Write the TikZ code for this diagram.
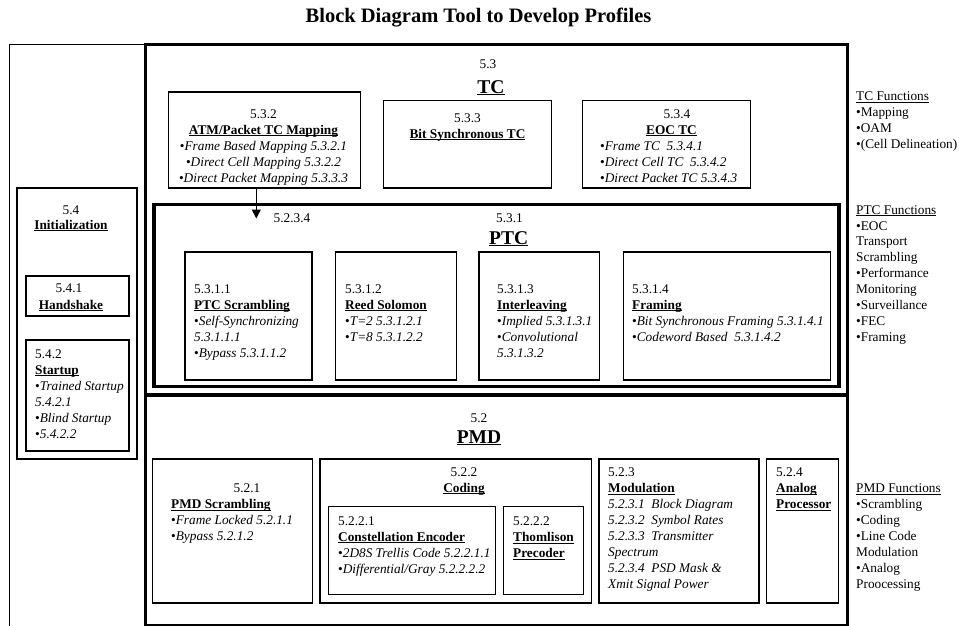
\documentclass[tikz,border=0pt]{standalone}
\usepackage{fontspec}
\setmainfont{Liberation Serif}
\usetikzlibrary{arrows.meta,fit}
% underline at a fixed depth below the baseline
\newcommand\ulbox[1]{\setbox0=\hbox{#1}\rlap{\rule[-1.7pt]{\wd0}{0.8pt}}\box0}
\newcommand\ulbig[1]{\setbox0=\hbox{#1}\rlap{\rule[-2.3pt]{\wd0}{1.3pt}}\box0}
% fixed top of the first line of a text block
\newcommand\tstrut{\rule{0pt}{11.2pt}}
\newcommand\blt{\textbullet}
\begin{document}
\begin{tikzpicture}[x=1pt,y=-1pt,
  thinbox/.style={draw, line width=1.1pt, inner sep=0pt},
  thickbox/.style={draw, line width=3.3pt, inner sep=0pt},
  txt/.style={inner sep=0pt, font=\fontsize{13.3}{16}\selectfont},
  sidetxt/.style={inner sep=0pt, font=\fontsize{13.3}{15.85}\selectfont, align=left, anchor=north west},
  big/.style={inner sep=0pt, font=\fontsize{19.5}{23}\selectfont\bfseries, anchor=base},
  arrowline/.style={line width=1pt, -{Triangle[width=9pt,length=9pt]}}
]
\useasboundingbox (0,0) rectangle (959,626);
\clip (0,0) rectangle (959,626);

% heading
\node[inner sep=0pt, font=\fontsize{20.5}{24}\selectfont\bfseries, anchor=base] (title) at (478.5,23) {Block Diagram Tool to Develop Profiles};

% frames
\node[thinbox, fit={(9.5,44.3) (145.7,700)}] (outer) {};
\node[thinbox, fit={(17,188) (137,459)}] (init) {};
\node[thinbox, fit={(26,276) (129,316)}] (b541) {};
\node[thinbox, fit={(26,340) (129,451)}] (b542) {};
\node[thickbox, fit={(145.7,44.3) (847.5,395)}] (tc) {};
\node[thickbox, fit={(145.7,395) (847.5,626)}] (pmd) {};
\node[thickbox, fit={(154,204.3) (839,386.7)}] (ptc) {};

% TC blocks
\node[thinbox, fit={(168.7,92) (360.3,188)}] (b532) {};
\node[thinbox, fit={(383.7,100.7) (551.7,188)}] (b533) {};
\node[thinbox, fit={(582.7,100.7) (750.7,188)}] (b534) {};

% PTC blocks
\node[thinbox, fit={(185,252) (312,380)}] (b5311) {};
\node[thinbox, fit={(335.3,252) (456.3,380)}] (b5312) {};
\node[thinbox, fit={(479,252) (599.3,380)}] (b5313) {};
\node[thinbox, fit={(623.3,252) (830.7,380)}] (b5314) {};

% PMD blocks
\node[thinbox, fit={(152.7,459) (312.7,603)}] (b521) {};
\node[thinbox, fit={(320,459) (591.7,603)}] (b522) {};
\node[thinbox, fit={(328.3,506.7) (495.7,594.7)}] (b5221) {};
\node[thinbox, fit={(503.3,506.7) (583.7,594.7)}] (b5222) {};
\node[thinbox, fit={(599,459) (759,603)}] (b523) {};
\node[thinbox, fit={(766.7,459) (838.3,603)}] (b524) {};

% arrow from the mapping block into PTC
\coordinate (tip) at (256.3,218.5);
\draw[arrowline] (b532.south -| tip) -- (tip);

% TC texts
\node[txt, anchor=base] (t53) at (488,69) {5.3};
\node[big] (tTC) at (491,93) {\ulbig{TC}};
\node[txt, align=center, anchor=north] (t532) at (263.5,106.8)
  {\tstrut 5.3.2\\ \textbf{\ulbox{ATM/Packet TC Mapping}}\\
   \blt\textit{Frame Based Mapping 5.3.2.1}\\
   \blt\textit{Direct Cell Mapping 5.3.2.2}\\
   \blt\textit{Direct Packet Mapping 5.3.3.3}};
\node[txt, align=center, anchor=north] (t533) at (467.5,110.8)
  {\tstrut 5.3.3\\ \textbf{\ulbox{Bit Synchronous TC}}};
\node[txt, anchor=base] (t534a) at (677,118) {5.3.4};
\node[txt, anchor=base, font=\fontsize{13.3}{16}\selectfont\bfseries] (t534b) at (671.5,134) {\ulbox{EOC TC}};
\node[txt, align=left, anchor=north west] (t534c) at (600,138.8)
  {\tstrut\blt\textit{Frame TC\ \ 5.3.4.1}\\
   \blt\textit{Direct Cell TC\ \ 5.3.4.2}\\
   \blt\textit{Direct Packet TC 5.3.4.3}};

% PTC texts
\node[txt, anchor=base] (t5234) at (292,222) {5.2.3.4};
\node[txt, anchor=base west] (t531) at (496,222) {5.3.1};
\node[big, anchor=base west] (tPTC) at (489,244) {\ulbig{PTC}};
\node[txt, align=left, anchor=north west] (t5311) at (194,281.8)
  {\tstrut 5.3.1.1\\ \textbf{\ulbox{PTC Scrambling}}\\
   \blt\textit{Self-Synchronizing}\\ \textit{5.3.1.1.1}\\
   \blt\textit{Bypass 5.3.1.1.2}};
\node[txt, align=left, anchor=north west] (t5312) at (345,281.8)
  {\tstrut 5.3.1.2\\ \textbf{\ulbox{Reed Solomon}}\\
   \blt\textit{T=2 5.3.1.2.1}\\ \blt\textit{T=8 5.3.1.2.2}};
\node[txt, align=left, anchor=north west] (t5313) at (497,281.8)
  {\tstrut 5.3.1.3\\ \textbf{\ulbox{Interleaving}}\\
   \blt\textit{Implied 5.3.1.3.1}\\ \blt\textit{Convolutional}\\
   \textit{5.3.1.3.2}};
\node[txt, align=left, anchor=north west] (t5314) at (632,281.8)
  {\tstrut 5.3.1.4\\ \textbf{\ulbox{Framing}}\\
   \blt\textit{Bit Synchronous Framing 5.3.1.4.1}\\
   \blt\textit{Codeword Based\ \ 5.3.1.4.2}};

% Initialization texts
\node[txt, anchor=base] (t54) at (71,214) {5.4};
\node[txt, anchor=base, font=\fontsize{13.3}{16}\selectfont\bfseries] (tinit) at (71,229.5) {\ulbox{Initialization}};
\node[txt, anchor=base] (t541) at (69,292.5) {5.4.1};
\node[txt, anchor=base, font=\fontsize{13.3}{16}\selectfont\bfseries] (thand) at (71,309) {\ulbox{Handshake}};
\node[txt, align=left, anchor=north west] (t542) at (35,346.8)
  {\tstrut 5.4.2\\ \textbf{\ulbox{Startup}}\\
   \blt\textit{Trained Startup}\\ \textit{5.4.2.1}\\
   \blt\textit{Blind Startup}\\ \blt\textit{5.4.2.2}};

% PMD texts
\node[txt, anchor=base] (t52) at (479,422) {5.2};
\node[big] (tPMD) at (479,443) {\ulbig{PMD}};
\node[txt, anchor=base] (t521a) at (247,492.5) {5.2.1};
\node[txt, align=left, anchor=north west] (t521b) at (171,497.3)
  {\tstrut\textbf{\ulbox{PMD Scrambling}}\\
   \blt\textit{Frame Locked 5.2.1.1}\\ \blt\textit{Bypass 5.2.1.2}};
\node[txt, anchor=base] (t522a) at (464,476) {5.2.2};
\node[txt, anchor=base, font=\fontsize{13.3}{16}\selectfont\bfseries] (t522b) at (464,492) {\ulbox{Coding}};
\node[txt, align=left, anchor=north west] (t5221) at (338,513.8)
  {\tstrut 5.2.2.1\\ \textbf{\ulbox{Constellation Encoder}}\\
   \blt\textit{2D8S Trellis Code 5.2.2.1.1}\\
   \blt\textit{Differential/Gray 5.2.2.2.2}};
\node[txt, align=left, anchor=north west] (t5222) at (513,514.3)
  {\tstrut 5.2.2.2\\ \textbf{\ulbox{Thomlison}}\\ \textbf{\ulbox{Precoder}}};
\node[txt, align=left, anchor=north west] (t523) at (608,465.3)
  {\tstrut 5.2.3\\ \textbf{\ulbox{Modulation}}\\
   \textit{5.2.3.1\ \ Block Diagram}\\
   \textit{5.2.3.2\ \ Symbol Rates}\\
   \textit{5.2.3.3\ \ Transmitter}\\
   \textit{Spectrum}\\
   \textit{5.2.3.4\ \ PSD Mask \&}\\
   \textit{Xmit Signal Power}};
\node[txt, align=left, anchor=north west] (t524) at (776,465.3)
  {\tstrut 5.2.4\\ \textbf{\ulbox{Analog}}\\ \textbf{\ulbox{Processor}}};

% function lists on the right
\node[sidetxt] (ftc) at (856,89.3)
  {\tstrut\ulbox{TC Functions}\\ \blt Mapping\\ \blt OAM\\ \blt(Cell Delineation)};
\node[sidetxt] (fptc) at (856,202.8)
  {\tstrut\ulbox{PTC Functions}\\ \blt EOC\\ Transport\\ Scrambling\\
   \blt Performance\\ Monitoring\\ \blt Surveillance\\ \blt FEC\\ \blt Framing};
\node[sidetxt, font=\fontsize{13.3}{16}\selectfont] (fpmd) at (856,481.3)
  {\tstrut\ulbox{PMD Functions}\\ \blt Scrambling\\ \blt Coding\\ \blt Line Code\\
   Modulation\\ \blt Analog\\ Proocessing};
\end{tikzpicture}
\end{document}
